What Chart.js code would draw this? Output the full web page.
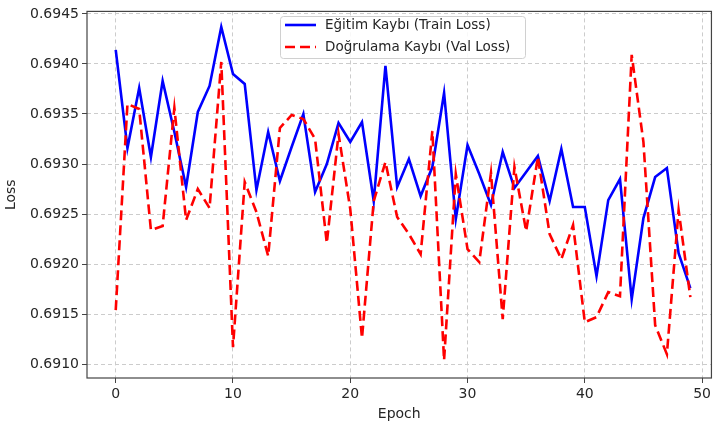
<!DOCTYPE html>
<html>
<head>
<meta charset="utf-8">
<script src="https://cdn.jsdelivr.net/npm/chart.js@4.4.1/dist/chart.umd.min.js"></script>
<style>
  html, body { margin: 0; padding: 0; background: #fff; }
  #wrap { width: 714px; height: 423px; }
</style>
</head>
<body>
<div id="wrap"><canvas id="c" width="714" height="423"></canvas></div>
<script>
// Data
const epochs = Array.from({length: 50}, (_, i) => i);
const trainLoss = [
  0.69414, 0.69316, 0.69376, 0.69307, 0.69383, 0.69332, 0.69277, 0.69352, 0.69378, 0.69437,
  0.69390, 0.69380, 0.69274, 0.69332, 0.69283, 0.69317, 0.69350, 0.69272, 0.69300, 0.69341,
  0.69322, 0.69342, 0.69263, 0.69398, 0.69277, 0.69305, 0.69268, 0.69297, 0.69371, 0.69245,
  0.69319, 0.69290, 0.69259, 0.69312, 0.69276, 0.69292, 0.69308, 0.69263, 0.69315, 0.69257,
  0.69257, 0.69188, 0.69264, 0.69285, 0.69165, 0.69246, 0.69287, 0.69296, 0.69211, 0.69176
];
const valLoss = [
  0.69154, 0.69360, 0.69355, 0.69234, 0.69238, 0.69356, 0.69244, 0.69275, 0.69256, 0.69402,
  0.69117, 0.69282, 0.69252, 0.69208, 0.69336, 0.69349, 0.69345, 0.69325, 0.69221, 0.69330,
  0.69255, 0.69126, 0.69263, 0.69302, 0.69247, 0.69230, 0.69210, 0.69333, 0.69104, 0.69290,
  0.69215, 0.69202, 0.69291, 0.69145, 0.69297, 0.69233, 0.69307, 0.69230, 0.69205, 0.69239,
  0.69142, 0.69147, 0.69172, 0.69168, 0.69409, 0.69322, 0.69139, 0.69110, 0.69254, 0.69167
];
const seriesLabels = ['Eğitim Kaybı (Train Loss)', 'Doğrulama Kaybı (Val Loss)'];
const xTicks = [0, 10, 20, 30, 40, 50];
const yTicks = [0.6910, 0.6915, 0.6920, 0.6925, 0.6930, 0.6935, 0.6940, 0.6945];

const FONT = 'DejaVu Sans';
const TXT = '#262626';

// frame + legend drawn like matplotlib
const framePlugin = {
  id: 'frame',
  afterDraw(chart) {
    const {ctx, chartArea: a} = chart;
    ctx.save();
    ctx.strokeStyle = '#444';
    ctx.lineWidth = 1.2;
    ctx.strokeRect(a.left, a.top, a.right - a.left, a.bottom - a.top);

    // legend box
    const bx = 280.5, by = 16.5, bw = 245, bh = 42;
    ctx.fillStyle = 'rgba(255,255,255,0.85)';
    ctx.strokeStyle = '#d0d0d0';
    ctx.lineWidth = 1;
    ctx.beginPath();
    ctx.roundRect(bx, by, bw, bh, 3);
    ctx.fill();
    ctx.stroke();
    const ds = chart.data.datasets;
    const rows = [25, 47];
    ds.forEach((d, i) => {
      ctx.strokeStyle = d.borderColor;
      ctx.lineWidth = d.borderWidth;
      ctx.setLineDash(d.borderDash || []);
      ctx.beginPath();
      ctx.moveTo(285, rows[i]);
      ctx.lineTo(316, rows[i]);
      ctx.stroke();
      ctx.setLineDash([]);
      ctx.fillStyle = TXT;
      ctx.font = '13.5px ' + FONT;
      ctx.textBaseline = 'middle';
      ctx.fillText(seriesLabels[i], 325, rows[i]);
    });
    ctx.restore();
  }
};

const gridOpts = { color: '#cccccc', tickColor: '#444', tickLength: 5, tickBorderDash: [], tickWidth: 1 };

new Chart(document.getElementById('c').getContext('2d'), {
  type: 'line',
  data: {
    datasets: [
      { label: seriesLabels[0], data: epochs.map((e, i) => ({x: e, y: trainLoss[i]})),
        borderColor: '#0000ff', borderWidth: 2.6, pointRadius: 0, tension: 0, order: 1 },
      { label: seriesLabels[1], data: epochs.map((e, i) => ({x: e, y: valLoss[i]})),
        borderColor: '#ff0000', borderWidth: 2.6, borderDash: [10, 5], pointRadius: 0, tension: 0, order: 0 }
    ]
  },
  options: {
    responsive: false,
    animation: false,
    layout: { padding: { left: 0, top: 7, right: 2, bottom: 0 } },
    plugins: { legend: { display: false }, tooltip: { enabled: false } },
    scales: {
      x: {
        type: 'linear', min: -2.45, max: 50.8,
        afterBuildTicks: s => { s.ticks = xTicks.map(v => ({value: v})); },
        afterFit: s => { s.height = 45; },
        grid: gridOpts,
        border: { display: false, dash: [4, 3] },
        ticks: { color: TXT, font: { family: FONT, size: 14 }, padding: 3, maxRotation: 0 },
        title: { display: true, text: 'Epoch', color: TXT, font: { family: FONT, size: 14 }, padding: { top: 2, bottom: 0 } }
      },
      y: {
        type: 'linear', min: 0.690862, max: 0.694525,
        afterBuildTicks: s => { s.ticks = yTicks.map(v => ({value: v})); },
        afterFit: s => { s.width = 87; },
        grid: gridOpts,
        border: { display: false, dash: [4, 3] },
        ticks: { color: TXT, font: { family: FONT, size: 14 }, padding: 3, callback: v => v.toFixed(4) },
        title: { display: true, text: 'Loss', color: TXT, font: { family: FONT, size: 14 }, padding: { top: 3, bottom: 0 } }
      }
    }
  },
  plugins: [framePlugin]
});
</script>
</body>
</html>
